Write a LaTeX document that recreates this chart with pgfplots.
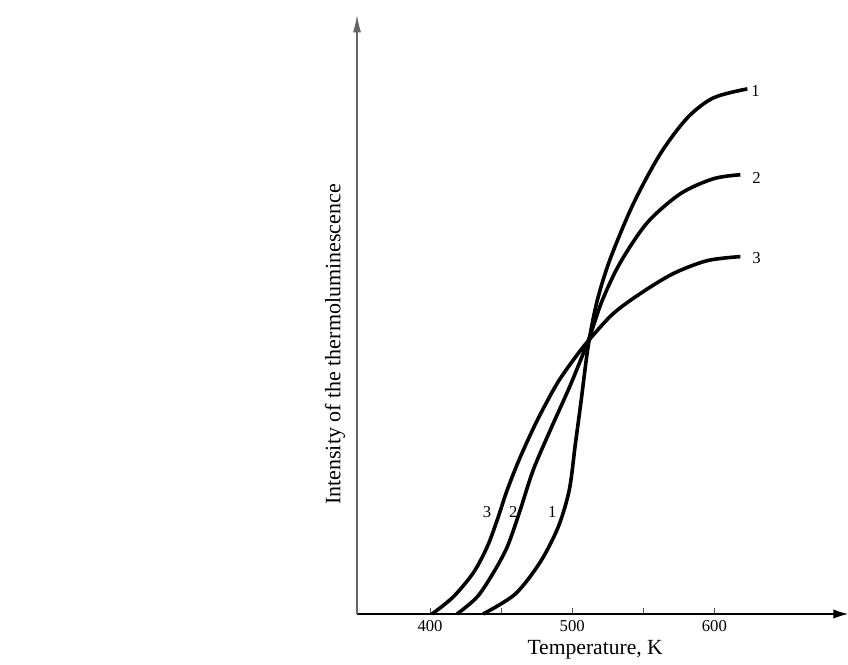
\documentclass[border=0pt]{standalone}
\usepackage{pgfplots}
\pgfplotsset{compat=1.18}
\usepackage{fontspec}
\setmainfont{Liberation Serif}
\usetikzlibrary{arrows.meta}
\begin{document}
\begin{tikzpicture}
\begin{axis}[
  at={(0,0)}, anchor=south west,
  scale only axis,
  width=368.25pt, height=449.25pt,
  xmin=348.6, xmax=694, ymin=0, ymax=600,
  axis lines=left,
  x axis line style={black, line width=0.8pt, -{Latex[length=11pt,width=7pt]}},
  y axis line style={black!60, line width=0.8pt, -{Latex[length=13pt,width=6pt]}},
  xtick={400,450,500,550,600},
  xticklabels={400,,500,,600},
  ytick=\empty,
  tick align=inside,
  major tick length=4.5pt,
  tick style={black!70, line width=0.6pt},
  /pgf/number format/assume math mode=true,
  tick label style={font=\fontsize{12.5}{14}\selectfont},
  xticklabel style={yshift=-1pt},
  xlabel={Temperature, K},
  xlabel style={at={(axis description cs:0.485,0)}, anchor=center, yshift=-27pt, font=\fontsize{16.2}{19}\selectfont},
  ylabel={Intensity of the thermoluminescence},
  ylabel style={at={(axis description cs:-0.045,0.45)}, anchor=center, rotate=0, font=\fontsize{16.5}{19}\selectfont},
  clip=false,
]
\addplot[black, line width=2.7pt, smooth] coordinates {
(437.3,0) (459.9,20) (477.5,52) (490.1,87) (497.9,124) (502.1,169) (506.3,214)
(511.3,269) (517.6,314) (526.8,356) (543.0,411) (562.0,461) (581.0,497) (599.3,517) (623.2,526)};
\addplot[black, line width=2.7pt, smooth] coordinates {
(419.0,0) (433.1,17) (444.4,41) (454.2,67) (462.7,101) (472.5,144) (484.5,184)
(498.6,229) (511.3,274) (521.1,314) (533.8,352) (552.8,392) (576.1,421) (599.3,436) (618.3,440)};
\addplot[black, line width=2.7pt, smooth] coordinates {
(401.4,0) (416.2,17) (430.3,41) (440.1,67) (447.2,94) (454.2,124) (463.4,157)
(475.4,194) (489.4,231) (502.1,257) (512.7,276) (528.9,301) (547.9,321) (571.1,341) (595.1,354) (618.3,358)};
\node[font=\fontsize{12.5}{14}\selectfont] at (axis cs:628.9,524) {1};
\node[font=\fontsize{12.5}{14}\selectfont] at (axis cs:629.6,437) {2};
\node[font=\fontsize{12.5}{14}\selectfont] at (axis cs:629.6,357) {3};
\node[font=\fontsize{12.5}{14}\selectfont] at (axis cs:440.1,102) {3};
\node[font=\fontsize{12.5}{14}\selectfont] at (axis cs:458.5,102) {2};
\node[font=\fontsize{12.5}{14}\selectfont] at (axis cs:485.9,102) {1};
\end{axis}
\pgfresetboundingbox
\path (-267.75pt,-37.5pt) rectangle (368.25pt,460.5pt);
\end{tikzpicture}
\end{document}
